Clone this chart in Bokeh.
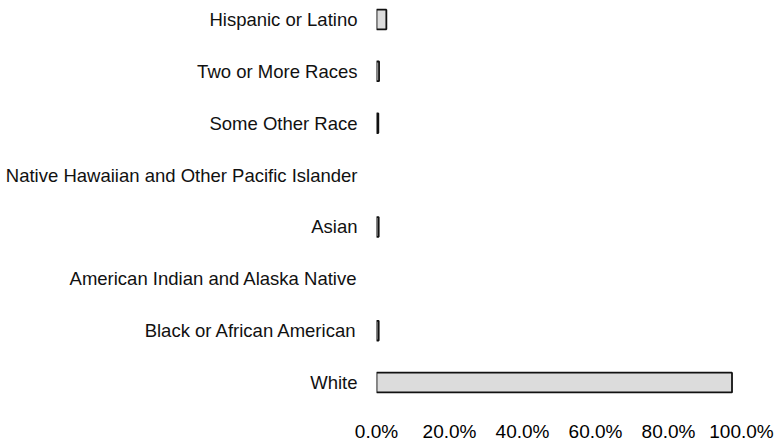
import numpy as np
from bokeh.plotting import figure
from bokeh.models import Range1d, FixedTicker, PrintfTickFormatter, ColumnDataSource, CDSView, BooleanFilter
from bokeh.embed import file_html
from bokeh.resources import INLINE

# Categories, bottom to top
categories = [
    "White",
    "Black or African American",
    "American Indian and Alaska Native",
    "Asian",
    "Native Hawaiian and Other Pacific Islander",
    "Some Other Race",
    "Two or More Races",
    "Hispanic or Latino",
]
percent = [97.4, 0.6, 0.0, 0.6, 0.0, 0.5, 0.7, 2.7]
x_ticks = [0, 20, 40, 60, 80, 100]

ypos = list(range(len(categories)))
src = ColumnDataSource(data=dict(y=ypos, v=percent, cat=categories))
view = CDSView(filter=BooleanFilter([v > 0 for v in percent]))

p = figure(width=779, height=445, output_backend="svg", toolbar_location=None,
           x_range=Range1d(0, 100), y_range=Range1d(-0.443, 7.366))
p.min_border_left = 376
p.min_border_right = 38
p.min_border_top = 0
p.min_border_bottom = 40
p.outline_line_color = None
p.xgrid.visible = False
p.ygrid.visible = False
p.background_fill_color = "white"
p.border_fill_color = "white"

p.hbar(y="y", left=0, right="v", height=0.38, source=src, view=view,
       fill_color="#dcdcdc", line_color="#111111", line_width=1.8)

xa = p.xaxis[0]
xa.ticker = FixedTicker(ticks=x_ticks)
xa.formatter = PrintfTickFormatter(format="%.1f%%")
xa.axis_line_color = None
xa.major_tick_line_color = None
xa.minor_tick_line_color = None
xa.major_label_standoff = 9
xa.major_label_text_font = "Liberation Sans"
xa.major_label_text_font_size = "19px"
xa.major_label_text_color = "#000000"

ya = p.yaxis[0]
ya.ticker = FixedTicker(ticks=ypos)
ya.major_label_overrides = {i: c for i, c in zip(ypos, categories)}
ya.axis_line_color = None
ya.major_tick_line_color = None
ya.minor_tick_line_color = None
ya.major_label_standoff = 13
ya.major_label_text_font = "Liberation Sans"
ya.major_label_text_font_size = "18.5px"
ya.major_label_text_color = "#111111"

open("out.html", "w").write(file_html(p, INLINE))
